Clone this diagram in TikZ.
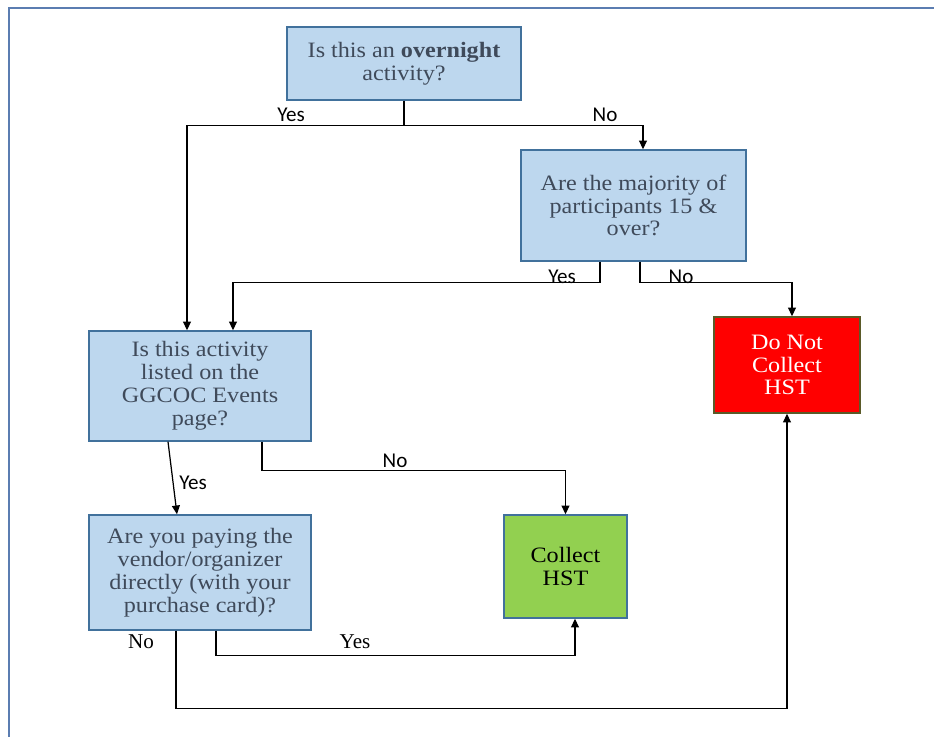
\documentclass[tikz,border=0pt]{standalone}
\usepackage{fontspec}
\setmainfont{Liberation Serif}
\newfontfamily\boxfont[FakeStretch=1.1]{Liberation Serif}
\newfontfamily\labelfont{Carlito}
\usetikzlibrary{arrows.meta,positioning}
\definecolor{qfill}{HTML}{BDD7EE}
\definecolor{qdraw}{HTML}{41719C}
\definecolor{qtext}{HTML}{3F4A5A}
\definecolor{okfill}{HTML}{92D050}
\definecolor{nofill}{HTML}{FF0000}
\definecolor{nodraw}{HTML}{5A5A28}
\definecolor{framec}{HTML}{5B7DB1}

\begin{document}
\begin{tikzpicture}[
    x=0.02cm, y=-0.02cm,
    question/.style={rectangle, draw=qdraw, line width=0.8pt, fill=qfill, text=qtext, align=center, inner sep=0pt, font=\boxfont\fontsize{12.5}{13}\selectfont},
    collect/.style={rectangle, draw=qdraw, line width=0.8pt, fill=okfill, align=center, inner sep=0pt, font=\boxfont\fontsize{12.5}{13}\selectfont},
    nocollect/.style={rectangle, draw=nodraw, line width=0.8pt, fill=nofill, text=white, align=center, inner sep=0pt, font=\boxfont\fontsize{12.5}{13}\selectfont},
    link/.style={line width=0.7pt},
    arrow/.style={link, -{Triangle[length=5pt, width=4.5pt]}},
    answer/.style={font=\labelfont\fontsize{12}{13}\selectfont, inner sep=0pt},
    sanswer/.style={font=\fontsize{12}{13}\selectfont, inner sep=0pt},
]
    \useasboundingbox (0,0) rectangle (934,737);

    % page frame
    \draw[framec, line width=1.2pt] (9,737) -- (9,8) -- (934,8);

    % question boxes
    \node[question, minimum width=4.68cm, minimum height=1.46cm] (q1) at (404,63.5) {Is this an \textbf{overnight}\\activity?};
    \node[question, minimum width=4.5cm, minimum height=2.22cm] (q2) at (633.5,205.5) {Are the majority of\\participants 15 \&\\over?};
    \node[question, minimum width=4.44cm, minimum height=2.2cm] (q3) at (200,386) {Is this activity\\listed on the\\GGCOC Events\\page?};
    \node[question, minimum width=4.44cm, minimum height=2.3cm] (q4) at (200,572.5) {Are you paying the\\vendor/organizer\\directly (with your\\purchase card)?};

    % outcomes
    \node[collect, minimum width=2.46cm, minimum height=2.06cm] (col) at (565.5,566.5) {Collect\\HST};
    \node[nocollect, minimum width=2.92cm, minimum height=1.92cm] (dnc) at (787,365) {Do Not\\Collect\\HST};

    % overnight?
    \draw[link] (q1.south) -- ++(0,25) coordinate (j1);
    \draw[arrow] (j1) -| ([xshift=-0.26cm]q3.north);
    \draw[arrow] (j1) -| ([xshift=0.19cm]q2.north);
    \node[answer] (a1) at (291,115) {Yes};
    \node[answer] (a2) at (605,115) {No};

    % 15 & over?
    \node[answer] (a3) at (562,277) {Yes};
    \node[answer] (a4) at (681,277) {No};
    \draw[arrow] ([xshift=-0.67cm]q2.south) -- ++(0,21) -| ([xshift=0.66cm]q3.north);
    \draw[arrow] ([xshift=0.13cm]q2.south) -- ++(0,21) -| ([xshift=0.1cm]dnc.north);

    % listed on events page?
    \draw[arrow] ([xshift=-0.64cm]q3.south) -- ([xshift=-0.46cm]q4.north);
    \draw[arrow] ([xshift=1.24cm]q3.south) -- ++(0,29) -| (col.north);
    \node[answer] (a5) at (193,483) {Yes};
    \node[answer] (a6) at (395,461) {No};

    % paying directly?
    \draw[arrow] ([xshift=0.32cm]q4.south) -- ++(0,25) -| ([xshift=0.19cm]col.south);
    \draw[arrow] ([xshift=-0.48cm]q4.south) -- ++(0,78) -| (dnc.south);
    \node[sanswer] (a7) at (141,642) {No};
    \node[sanswer] (a8) at (355,642) {Yes};
\end{tikzpicture}
\end{document}
